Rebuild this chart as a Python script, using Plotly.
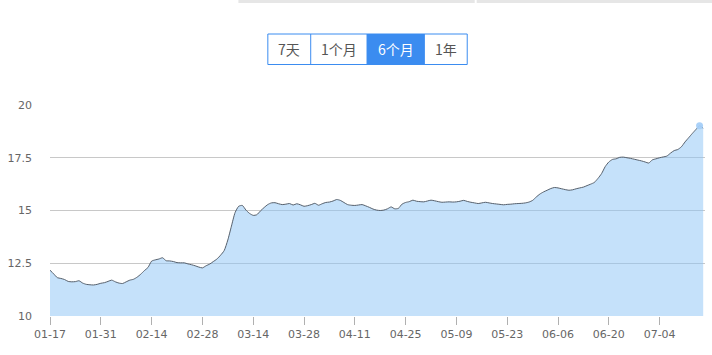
import pandas as pd
import plotly.graph_objects as go

# ---- data ----
dates = [d.strftime("%m-%d") for d in pd.date_range("2019-01-17", periods=181, freq="D")]
values = [
    12.17, 12.00, 11.82, 11.78, 11.73, 11.64, 11.62, 11.63, 11.67, 11.56,
    11.50, 11.48, 11.47, 11.50, 11.55, 11.58, 11.64, 11.70, 11.62, 11.56,
    11.54, 11.62, 11.70, 11.74, 11.84, 11.98, 12.15, 12.30, 12.60, 12.66,
    12.70, 12.76, 12.62, 12.61, 12.58, 12.53, 12.52, 12.52, 12.47, 12.43,
    12.38, 12.32, 12.28, 12.38, 12.46, 12.58, 12.70, 12.88, 13.10, 13.60,
    14.26, 14.90, 15.20, 15.24, 15.02, 14.86, 14.77, 14.80, 14.98, 15.14,
    15.28, 15.36, 15.37, 15.32, 15.28, 15.30, 15.33, 15.26, 15.32, 15.27,
    15.20, 15.23, 15.28, 15.34, 15.25, 15.32, 15.38, 15.40, 15.45, 15.52,
    15.48, 15.38, 15.28, 15.25, 15.24, 15.26, 15.28, 15.22, 15.15, 15.07,
    15.02, 15.00, 15.02, 15.08, 15.17, 15.08, 15.10, 15.30, 15.38, 15.42,
    15.49, 15.44, 15.42, 15.41, 15.45, 15.49, 15.46, 15.42, 15.39, 15.40,
    15.41, 15.40, 15.41, 15.44, 15.48, 15.43, 15.39, 15.36, 15.33, 15.36,
    15.39, 15.36, 15.33, 15.31, 15.29, 15.27, 15.29, 15.30, 15.32, 15.33,
    15.34, 15.36, 15.40, 15.48, 15.64, 15.78, 15.88, 15.96, 16.04, 16.09,
    16.07, 16.03, 15.99, 15.96, 15.98, 16.03, 16.07, 16.11, 16.18, 16.25,
    16.33, 16.52, 16.75, 17.08, 17.30, 17.42, 17.45, 17.52, 17.53, 17.50,
    17.47, 17.43, 17.39, 17.35, 17.30, 17.25, 17.40, 17.45, 17.50, 17.54,
    17.58, 17.72, 17.84, 17.89, 18.02, 18.25, 18.45, 18.65, 18.84, 19.02,
    18.90,
]
x_ticks = dates[::14]
y_ticks = [10, 12.5, 15, 17.5, 20]
y_tick_text = ["10", "12.5", "15", "17.5", "20"]
buttons = ["7天", "1个月", "6个月", "1年"]
selected_button = "6个月"
highlight_index = 179

# ---- geometry helpers (pixel -> paper) ----
W, H = 712, 355
L, R, T, B = 48, 7, 105, 39
PW, PH = W - L - R, H - T - B


def px(xp):
    return (xp - L) / PW


def py(yp):
    return (H - B - yp) / PH


fig = go.Figure()
fig.add_trace(go.Scatter(
    x=dates, y=values, mode="lines",
    line=dict(color="#56606c", width=1, shape="spline", smoothing=0.6),
    fill="tozeroy", fillcolor="rgba(140,195,245,0.5)",
    hoverinfo="skip", showlegend=False,
))
fig.add_trace(go.Scatter(
    x=[dates[highlight_index]], y=[values[highlight_index]], mode="markers",
    marker=dict(size=7, color="rgba(165,207,248,0.95)"),
    hoverinfo="skip", showlegend=False,
))

shapes = []
annotations = []

# top grey bar
shapes.append(dict(type="rect", xref="paper", yref="paper",
                   x0=px(237), x1=px(474), y0=py(3), y1=py(0),
                   fillcolor="#e6e6e6", line=dict(width=0), layer="above"))
shapes.append(dict(type="rect", xref="paper", yref="paper",
                   x0=px(476), x1=px(712), y0=py(3), y1=py(0),
                   fillcolor="#e6e6e6", line=dict(width=0), layer="above"))

# button group
edges = [266.5, 309.5, 366, 423.5, 466.5]
btop, bbot = 34, 64.5
for i, label in enumerate(buttons):
    sel = label == selected_button
    if sel:
        shapes.append(dict(type="rect", xref="paper", yref="paper",
                           x0=px(edges[i]), x1=px(edges[i + 1]), y0=py(bbot), y1=py(btop),
                           fillcolor="#3b8cf0", line=dict(width=0), layer="above"))
    annotations.append(dict(
        xref="paper", yref="paper", x=px((edges[i] + edges[i + 1]) / 2), y=py((btop + bbot) / 2),
        text=label, showarrow=False, xanchor="center", yanchor="middle",
        font=dict(family="Noto Sans CJK SC", size=14, color="#ffffff" if sel else "#555555"),
    ))
# outer border
shapes.append(dict(type="rect", xref="paper", yref="paper",
                   x0=px(edges[0]), x1=px(edges[-1]), y0=py(bbot), y1=py(btop),
                   fillcolor="rgba(0,0,0,0)", line=dict(color="#3b8cf0", width=1), layer="above"))
for e in edges[1:-1]:
    shapes.append(dict(type="line", xref="paper", yref="paper",
                       x0=px(e), x1=px(e), y0=py(bbot), y1=py(btop),
                       line=dict(color="#3b8cf0", width=1), layer="above"))

fig.update_layout(
    width=W, height=H, autosize=False,
    margin=dict(l=L, r=R, t=T, b=B, pad=0),
    paper_bgcolor="#ffffff", plot_bgcolor="#ffffff",
    shapes=shapes, annotations=annotations,
    showlegend=False,
)
fig.update_xaxes(
    type="category", range=[0, 180.5],
    tickvals=x_ticks, ticktext=x_ticks,
    showgrid=False, zeroline=False, showline=False,
    ticks="outside", ticklen=8, tickcolor="#b0b0b0", tickwidth=1,
    tickfont=dict(family="DejaVu Sans", size=11, color="#666666"),
)
fig.update_yaxes(
    range=[10, 20], tickvals=y_ticks, ticktext=y_tick_text,
    showgrid=True, gridcolor="#c8c8c8", gridwidth=1, zeroline=False, showline=False,
    ticks="", ticklabelstandoff=17,
    tickfont=dict(family="DejaVu Sans", size=11, color="#666666"),
)

fig.write_html("out.html")
